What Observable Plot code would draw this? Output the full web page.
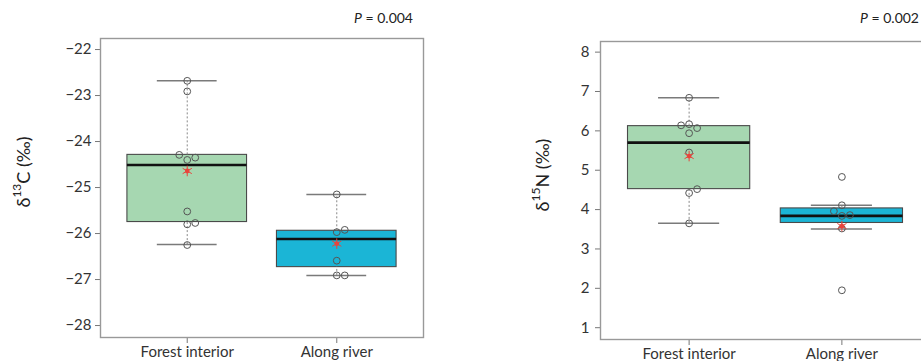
<!DOCTYPE html>
<html>
<head>
<meta charset="utf-8">
<script src="https://cdn.jsdelivr.net/npm/d3@7"></script>
<script src="https://cdn.jsdelivr.net/npm/@observablehq/plot@0.6"></script>
<style>
  html, body { margin: 0; padding: 0; background: #fff; }
  #wrap { position: relative; width: 921px; height: 361px; overflow: hidden; font-family: Lato, "Open Sans", sans-serif; }
  #left, #right { position: absolute; top: 0; }
  #left { left: 0; width: 460px; }
  #right { left: 460px; width: 480px; }
  svg { max-width: none !important; }
</style>
</head>
<body>
<div id="wrap"><div id="left"></div><div id="right"></div></div>
<script>
// ---------- data ----------
const categories = ["Forest interior", "Along river"];

// δ13C individual samples
const c13Forest = [-22.68, -22.91, -24.29, -24.40, -24.35, -25.52, -25.80, -25.77, -26.25];
const c13River  = [-25.15, -25.92, -25.97, -26.59, -26.91, -26.91];
// δ13C box stats: [lower whisker, Q1, median, Q3, upper whisker]
const c13ForestBox = [-26.24, -25.75, -24.51, -24.29, -22.68];
const c13RiverBox  = [-26.91, -26.73, -26.12, -25.94, -25.15];
const c13Means = [-24.64, -26.22];
const c13Ticks = [-28, -27, -26, -25, -24, -23, -22];

// δ15N individual samples
const n15Forest = [6.84, 6.17, 6.14, 6.07, 5.94, 5.45, 4.52, 4.42, 3.65];
const n15River  = [4.83, 4.11, 3.96, 3.86, 3.84, 3.52, 1.95];
const n15ForestBox = [3.65, 4.52, 5.70, 6.12, 6.84];
const n15RiverBox  = [3.51, 3.66, 3.84, 4.03, 4.11];
const n15Means = [5.36, 3.58];
const n15Ticks = [1, 2, 3, 4, 5, 6, 7, 8];

const pValues = ["0.004", "0.002"];

// ---------- drawing ----------
const boxFills = ["#a6d7b1", "#1bb5d6"];
const fontFam = "Lato, 'Open Sans', sans-serif";

function beeswarm(values, pxPerUnitY, step) {
  // deterministic swarm: place points bottom-to-top, shifting sideways on collision
  const order = values.map((v, i) => i).sort((a, b) => values[a] - values[b]);
  const placed = [];
  const off = new Array(values.length).fill(0);
  for (const i of order) {
    const y = values[i] * pxPerUnitY;
    const cands = [0, step, -step, 2 * step, -2 * step, 3 * step, -3 * step];
    for (const c of cands) {
      const ok = placed.every(p => Math.hypot(p.x - c, p.y - y) >= step);
      if (ok) { off[i] = c; placed.push({x: c, y}); break; }
    }
  }
  return off;
}

const fmtTick = d => String(d).replace("-", "\u2212");

function panel({el, width, ml, mr, mt, mb, domain, ticks, groups, boxes, means, pText, pX, label, labelX, labelY, tickPad}) {
  const height = 361;
  const xDomain = [0.42, 2.58];
  const pxX = (width - ml - mr) / (xDomain[1] - xDomain[0]);
  const pxY = (height - mt - mb) / (domain[1] - domain[0]);

  const stats = boxes.map((b, i) => ({pos: i + 1, lo: b[0], q1: b[1], med: b[2], q3: b[3], hi: b[4], mean: means[i], fill: boxFills[i]}));
  const pts = [];
  groups.forEach((vals, gi) => {
    const offs = beeswarm(vals, pxY, 8);
    vals.forEach((v, j) => pts.push({x: gi + 1 + offs[j] / pxX, y: v}));
  });

  const chart = Plot.plot({
    width, height,
    marginLeft: ml, marginRight: mr, marginTop: mt, marginBottom: mb,
    style: {fontFamily: fontFam, color: "#333", background: "transparent", maxWidth: "none"},
    x: {domain: xDomain},
    y: {domain},
    marks: [
      Plot.rect(stats, {x1: d => d.pos - 0.4, x2: d => d.pos + 0.4, y1: "q1", y2: "q3", fill: "fill", stroke: "#4a4a4a", strokeWidth: 1.1}),
      Plot.ruleX(stats, {x: "pos", y1: "q3", y2: "hi", stroke: "#888", strokeDasharray: "2,2"}),
      Plot.ruleX(stats, {x: "pos", y1: "lo", y2: "q1", stroke: "#888", strokeDasharray: "2,2"}),
      Plot.ruleY(stats, {y: "hi", x1: d => d.pos - 0.2, x2: d => d.pos + 0.2, stroke: "#7a7a7a", strokeWidth: 1.5}),
      Plot.ruleY(stats, {y: "lo", x1: d => d.pos - 0.2, x2: d => d.pos + 0.2, stroke: "#7a7a7a", strokeWidth: 1.5}),
      Plot.ruleY(stats, {y: "med", x1: d => d.pos - 0.4, x2: d => d.pos + 0.4, stroke: "#111", strokeWidth: 2.6}),
      Plot.dot(pts, {x: "x", y: "y", r: 3.4, stroke: "#555", strokeWidth: 1, fill: "none"}),
      Plot.dot(stats, {x: "pos", y: "mean", r: 2.4, fill: "#e8453c", stroke: "none"}),
      Plot.dot(stats, {x: "pos", y: "mean", r: 5, symbol: "asterisk", stroke: "#e8453c", strokeWidth: 1}),
      Plot.axisY({ticks, tickFormat: fmtTick, tickSize: 5, tickPadding: tickPad, fontSize: 15, label: null, stroke: "#777"}),
      Plot.axisX({ticks: [1, 2], tickFormat: i => categories[i - 1], tickSize: 6, tickPadding: 3, fontSize: 15, label: null, stroke: "#777"}),
      Plot.frame({stroke: "#999", strokeWidth: 1.4})
    ]
  });
  el.appendChild(chart);

  const svg = d3.select(chart);
  svg.style("overflow", "visible");
  const pt = svg.append("text")
    .attr("x", pX).attr("y", 23)
    .attr("text-anchor", "end")
    .attr("font-size", 14).attr("fill", "#222")
    .attr("font-family", fontFam);
  pt.append("tspan").attr("font-style", "italic").text("P");
  pt.append("tspan").text(" = " + pText);

  const lt = svg.append("text")
    .attr("transform", `translate(${labelX},${labelY}) rotate(-90)`)
    .attr("text-anchor", "middle")
    .attr("dominant-baseline", "central")
    .attr("font-size", 18).attr("fill", "#222")
    .attr("font-family", fontFam);
  lt.append("tspan").text("δ");
  lt.append("tspan").attr("font-size", 12).attr("dy", "-0.55em").text(label[0]);
  lt.append("tspan").attr("dy", "0.35em").text(label[1]);
}

panel({
  el: document.getElementById("left"), width: 460, ml: 100, mr: 37, mt: 38, mb: 24,
  domain: [-28.26, -21.76], ticks: c13Ticks,
  groups: [c13Forest, c13River], boxes: [c13ForestBox, c13RiverBox], means: c13Means,
  pText: pValues[0], pX: 413, label: ["13", "C (‰)"], labelX: 23, labelY: 172, tickPad: 4
});

panel({
  el: document.getElementById("right"), width: 480, ml: 140, mr: 10, mt: 41, mb: 22,
  domain: [0.70, 8.27], ticks: n15Ticks,
  groups: [n15Forest, n15River], boxes: [n15ForestBox, n15RiverBox], means: n15Means,
  pText: pValues[1], pX: 459, label: ["15", "N (‰)"], labelX: 82, labelY: 175, tickPad: 6
});
</script>
</body>
</html>
